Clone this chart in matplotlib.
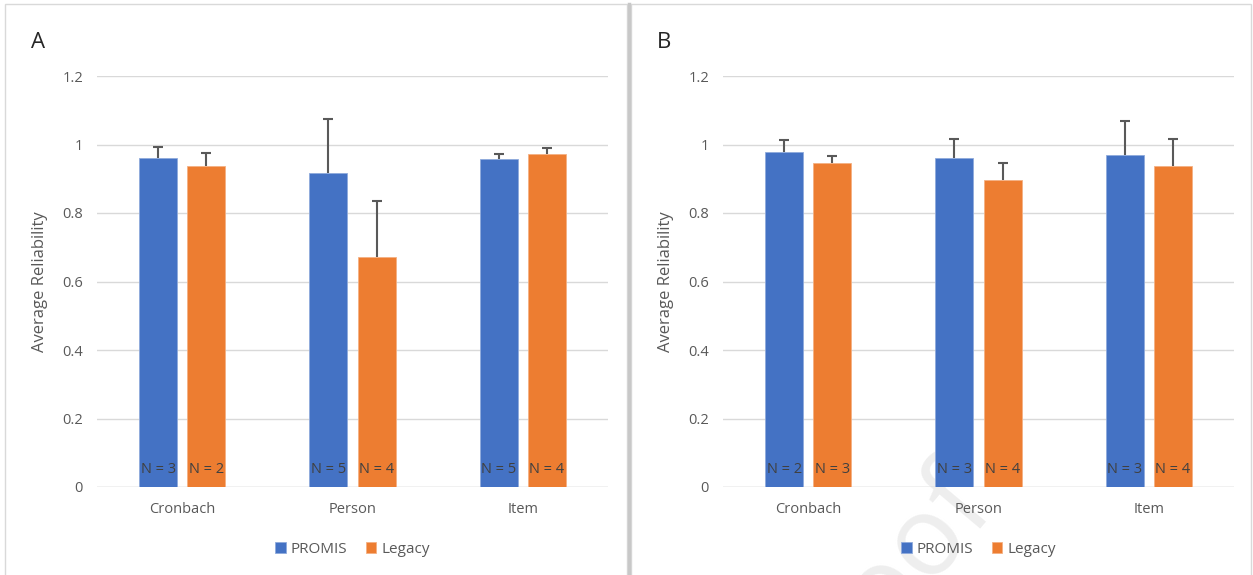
import numpy as np
import matplotlib.pyplot as plt
from matplotlib.patches import Rectangle
from matplotlib.lines import Line2D

plt.rcParams['font.family'] = ['Open Sans', 'DejaVu Sans']

categories = ['Cronbach', 'Person', 'Item']
series = ['PROMIS', 'Legacy']

# panel A
a_promis = [0.96, 0.917, 0.958]
a_promis_err = [0.032, 0.157, 0.015]
a_legacy = [0.937, 0.672, 0.972]
a_legacy_err = [0.038, 0.163, 0.017]
a_promis_n = [3, 5, 5]
a_legacy_n = [2, 4, 4]

# panel B
b_promis = [0.978, 0.96, 0.969]
b_promis_err = [0.035, 0.056, 0.1]
b_legacy = [0.946, 0.896, 0.937]
b_legacy_err = [0.02, 0.05, 0.08]
b_promis_n = [2, 3, 3]
b_legacy_n = [3, 4, 4]

blue = '#4472C4'
orange = '#ED7D31'
txt = '#595959'

W, H = 1253, 575
fig = plt.figure(figsize=(W / 100, H / 100), dpi=100)

# panel frames and separator
fig.add_artist(Rectangle((5 / W, -0.01), 622 / W, 1 - 4 / H + 0.01, transform=fig.transFigure,
                         fill=False, edgecolor='#d9d9d9', lw=1))
fig.add_artist(Rectangle((631 / W, -0.01), 620 / W, 1 - 4 / H + 0.01, transform=fig.transFigure,
                         fill=False, edgecolor='#d9d9d9', lw=1))
fig.add_artist(Line2D([629 / W, 629 / W], [0, 1 - 4 / H], transform=fig.transFigure,
                      color='#c8c8c8', lw=2.5))

# faint watermark, mostly below the bottom edge
fig.text(880 / W, 1 - 590 / H, 'Proof', fontsize=80, color='#eeeeee',
         rotation=50, ha='center', va='center', zorder=0)


def panel(left_px, letter, promis, promis_err, legacy, legacy_err, pn, ln):
    ax = fig.add_axes([left_px / W, 1 - 487 / H, 511 / W, 411 / H])
    ax.set_zorder(2)
    ax.patch.set_alpha(0)
    x = np.arange(len(categories))
    bw = 0.223
    off = 0.141
    ax.bar(x - off, promis, bw, color=blue, edgecolor='#8faadc', lw=0.6, label=series[0], zorder=2)
    ax.bar(x + off, legacy, bw, color=orange, edgecolor='#f4b183', lw=0.6, label=series[1], zorder=2)
    # upper error bars only
    for xs, vals, errs in [(x - off, promis, promis_err), (x + off, legacy, legacy_err)]:
        tops = np.array(vals) + np.array(errs)
        ax.vlines(xs, vals, tops, color='#595959', lw=1.5, zorder=3)
        ax.scatter(xs, tops, marker='_', s=60, color='#595959', linewidths=1.5, zorder=3)
    for i in range(3):
        ax.text(x[i] - off, 0.03, 'N = %d' % pn[i], ha='center', va='bottom', fontsize=10.5,
                color='#404040', zorder=4)
        ax.text(x[i] + off, 0.03, 'N = %d' % ln[i], ha='center', va='bottom', fontsize=10.5,
                color='#404040', zorder=4)
    ax.set_xlim(-0.5, 2.5)
    ax.set_ylim(0, 1.2)
    ax.set_yticks([0, 0.2, 0.4, 0.6, 0.8, 1.0, 1.2])
    ax.set_yticklabels(['0', '0.2', '0.4', '0.6', '0.8', '1', '1.2'])
    ax.set_xticks(x)
    ax.set_xticklabels(categories)
    ax.grid(axis='y', color='#d9d9d9', lw=1, zorder=0)
    ax.set_axisbelow(True)
    for s in ax.spines.values():
        s.set_visible(False)
    ax.tick_params(length=0, labelsize=10.5, colors=txt, pad=10)
    ax.tick_params(axis='x', pad=11)
    ax.set_ylabel('Average Reliability', fontsize=12, color=txt, labelpad=10)
    ax.axhline(0, color='#d9d9d9', lw=1, zorder=1)
    ax.legend(loc='upper center', bbox_to_anchor=(0.5, -0.1), ncol=2, frameon=False,
              fontsize=11, handlelength=0.7, handleheight=0.7, handletextpad=0.3,
              columnspacing=1.2, labelcolor=txt)
    fig.text((left_px - 66) / W, 1 - 42 / H, letter, fontsize=16, color='#262626',
             ha='left', va='center')
    return ax


panel(97, 'A', a_promis, a_promis_err, a_legacy, a_legacy_err, a_promis_n, a_legacy_n)
panel(723, 'B', b_promis, b_promis_err, b_legacy, b_legacy_err, b_promis_n, b_legacy_n)

fig.savefig('out.png', dpi=100)
